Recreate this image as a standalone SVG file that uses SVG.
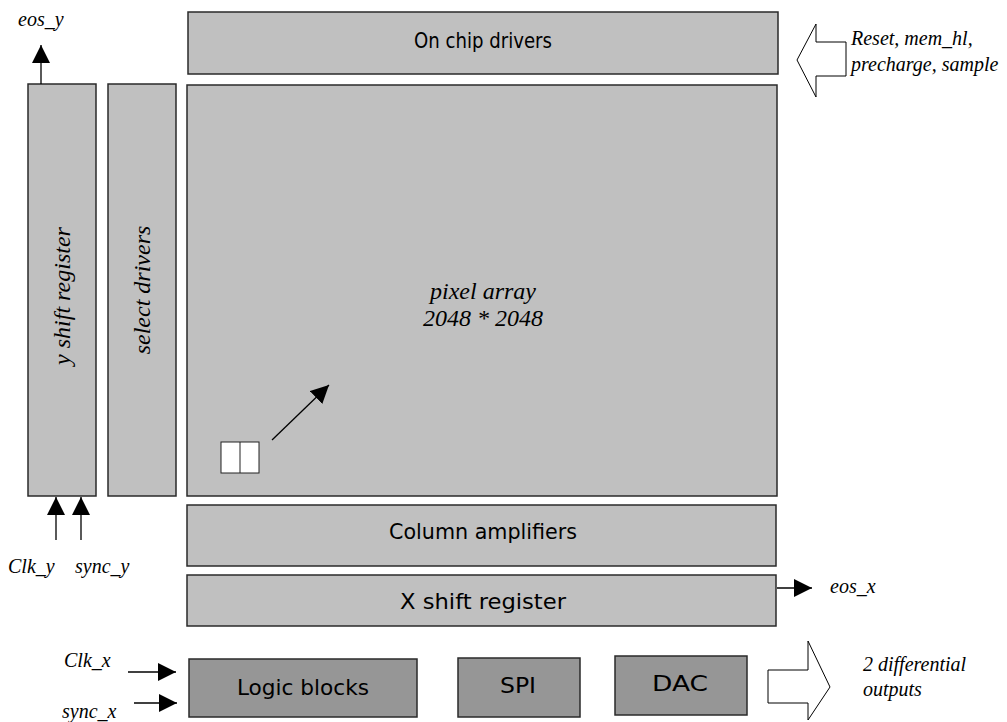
<svg xmlns="http://www.w3.org/2000/svg" width="1007" height="722" viewBox="0 0 1007 722">
<style>
.lb{fill:#c0c0c0;stroke:#2a2a2a;stroke-width:1.5}
.db{fill:#969696;stroke:#2a2a2a;stroke-width:1.5}
.bt{font-family:"DejaVu Sans Condensed","Open Sans",sans-serif;font-size:22px;fill:#000;text-anchor:middle}
.it{font-family:"Liberation Serif","Times New Roman",serif;font-style:italic;font-size:20px;fill:#000}
.big{font-size:24px}
.ln{stroke:#000;stroke-width:1.3;fill:none}
.ha{fill:#fff;stroke:#000;stroke-width:1}
</style>
<defs>
<marker id="ahb" viewBox="0 0 18 18" refX="18" refY="9" markerWidth="18" markerHeight="18" markerUnits="userSpaceOnUse" orient="auto"><path d="M0,0 L18,9 L0,18 z" fill="#000"/></marker>
</defs>
<g id="on-chip-drivers"><rect class="lb" x="188" y="12" width="590" height="62"/><text class="bt" x="483" y="48" textLength="138" lengthAdjust="spacingAndGlyphs">On chip drivers</text></g>
<g id="y-shift-register"><rect class="lb" x="28" y="84" width="68" height="412"/><text class="it big" text-anchor="middle" transform="translate(70,296) rotate(-90)">y shift register</text></g>
<g id="select-drivers"><rect class="lb" x="108" y="84" width="68" height="412"/><text class="it big" text-anchor="middle" transform="translate(150,290) rotate(-90)">select drivers</text></g>
<g id="pixel-array"><rect class="lb" x="187" y="85" width="590" height="411"/><text class="it big" text-anchor="middle" x="483" y="299">pixel array</text><text class="it big" text-anchor="middle" x="483" y="326">2048 * 2048</text>
<rect x="221" y="442" width="38" height="31" fill="#fff" stroke="#222" stroke-width="1"/><line x1="240" y1="442" x2="240" y2="473" stroke="#222" stroke-width="1"/></g>
<g id="column-amplifiers"><rect class="lb" x="187" y="505" width="589" height="61"/><text class="bt" x="483" y="539" textLength="188" lengthAdjust="spacingAndGlyphs">Column amplifiers</text></g>
<g id="x-shift-register"><rect class="lb" x="187" y="575" width="589" height="51"/><text class="bt" x="483" y="609" textLength="166" lengthAdjust="spacingAndGlyphs">X shift register</text></g>
<g id="logic-blocks"><rect class="db" x="189" y="659" width="228" height="58"/><text class="bt" x="303" y="695" textLength="132" lengthAdjust="spacingAndGlyphs">Logic blocks</text></g>
<g id="spi"><rect class="db" x="458" y="658" width="122" height="59"/><text class="bt" x="518" y="693" textLength="36" lengthAdjust="spacingAndGlyphs">SPI</text></g>
<g id="dac"><rect class="db" x="615" y="656" width="132" height="59"/><text class="bt" x="680" y="691" textLength="56" lengthAdjust="spacingAndGlyphs">DAC</text></g>
<g id="connectors">
<line class="ln" x1="41" y1="84" x2="41" y2="45" marker-end="url(#ahb)"/>
<line class="ln" x1="56" y1="540" x2="56" y2="497" marker-end="url(#ahb)"/>
<line class="ln" x1="81" y1="540" x2="81" y2="497" marker-end="url(#ahb)"/>
<line class="ln" x1="272" y1="440" x2="329" y2="385" marker-end="url(#ahb)"/>
<line class="ln" x1="777" y1="588" x2="812" y2="588" marker-end="url(#ahb)"/>
<line class="ln" x1="128" y1="672" x2="176" y2="672" marker-end="url(#ahb)"/>
<line class="ln" x1="134" y1="703" x2="177" y2="703" marker-end="url(#ahb)"/>
<path class="ha" d="M846,42 L816,42 L816,24 L797,60 L816,97 L816,76 L846,76 Z"/>
<path class="ha" d="M768,670 L808,670 L808,641 L830,687 L808,720 L808,703 L768,703 Z"/>
</g>
<g id="labels">
<text class="it" x="18" y="26">eos_y</text>
<text class="it" x="851" y="45">Reset, mem_hl,</text>
<text class="it" x="851" y="71">precharge, sample</text>
<text class="it" x="8" y="573">Clk_y</text>
<text class="it" x="75" y="573">sync_y</text>
<text class="it" x="830" y="593">eos_x</text>
<text class="it" x="64" y="667">Clk_x</text>
<text class="it" x="62" y="718">sync_x</text>
<text class="it" x="863" y="671">2 differential</text>
<text class="it" x="863" y="696">outputs</text>
</g>
</svg>
